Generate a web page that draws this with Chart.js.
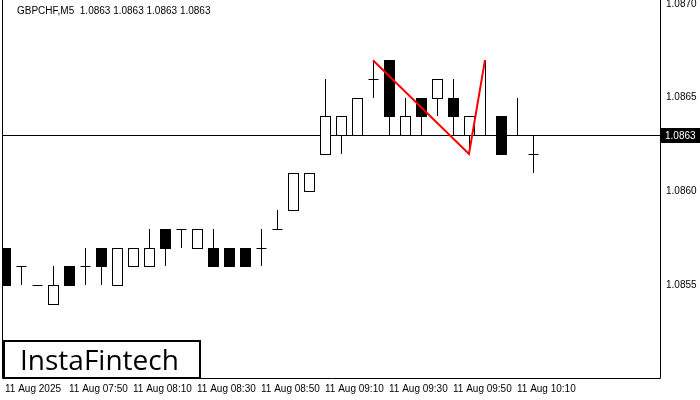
<!DOCTYPE html>
<html><head><meta charset="utf-8">
<script src="https://cdn.jsdelivr.net/npm/chart.js@4"></script>
<style>body{margin:0;background:#fff}</style>
</head><body>
<canvas id="c" width="700" height="400"></canvas>
<script>
// candle data, prices as 1.08xx
const opens  = [1.0857,1.0856,1.0855,1.0854,1.0856,1.0856,1.0857,1.0855,1.0856,1.0856,1.0858,1.0858,1.0857,1.0857,1.0857,1.0857,1.0857,1.0858,1.0859,1.0860,1.0862,1.0863,1.0863,1.0866,1.0867,1.0863,1.0865,1.0865,1.0865,1.0863,1.0863,1.0864,1.0863,1.0862];
const highs  = [1.0857,1.0856,1.0855,1.0856,1.0856,1.0857,1.0857,1.0857,1.0857,1.0858,1.0858,1.0858,1.0858,1.0858,1.0857,1.0857,1.0858,1.0859,1.0861,1.0861,1.0866,1.0864,1.0865,1.0867,1.0867,1.0865,1.0865,1.0866,1.0866,1.0864,1.0867,1.0864,1.0865,1.0863];
const lows   = [1.0855,1.0855,1.0855,1.0854,1.0855,1.0855,1.0855,1.0855,1.0856,1.0856,1.0856,1.0857,1.0857,1.0856,1.0856,1.0856,1.0856,1.0858,1.0859,1.0860,1.0862,1.0862,1.0863,1.0865,1.0863,1.0863,1.0863,1.0864,1.0863,1.0862,1.0863,1.0862,1.0863,1.0861];
const closes = [1.0855,1.0856,1.0855,1.0855,1.0855,1.0856,1.0856,1.0857,1.0857,1.0857,1.0857,1.0858,1.0858,1.0856,1.0856,1.0856,1.0857,1.0858,1.0861,1.0861,1.0864,1.0864,1.0865,1.0866,1.0864,1.0864,1.0864,1.0866,1.0864,1.0864,1.0863,1.0862,1.0863,1.0862];
const timeLabels = ['11 Aug 2025','11 Aug 07:50','11 Aug 08:10','11 Aug 08:30','11 Aug 08:50','11 Aug 09:10','11 Aug 09:30','11 Aug 09:50','11 Aug 10:10'];
const priceTicks = [1.0855,1.0860,1.0865,1.0870];
const lastPrice = 1.0863;
const patternX = [23,29,30];
const patternY = [1.0867,1.0862,1.0867];

const candlePlugin = {
  id: 'candles',
  beforeDatasetsDraw(chart) {
    const {ctx, chartArea: a, scales: {x, y}} = chart;
    ctx.save();
    ctx.beginPath(); ctx.rect(a.left, a.top, a.right - a.left, a.bottom - a.top); ctx.clip();
    ctx.strokeStyle = '#000'; ctx.lineWidth = 1;
    // last price line
    const ly = Math.round(y.getPixelForValue(lastPrice)) + 0.5;
    ctx.beginPath(); ctx.moveTo(a.left, ly); ctx.lineTo(a.right, ly); ctx.stroke();
    opens.forEach((o, i) => {
      const cx = Math.round(x.getPixelForValue(i)) + 0.5;
      const yo = Math.round(y.getPixelForValue(o)), yc = Math.round(y.getPixelForValue(closes[i]));
      const yh = Math.round(y.getPixelForValue(highs[i])), yl = Math.round(y.getPixelForValue(lows[i]));
      ctx.beginPath(); ctx.moveTo(cx, yh); ctx.lineTo(cx, yl); ctx.stroke();
      const top = Math.min(yo, yc), h = Math.abs(yo - yc);
      if (h === 0) {
        ctx.beginPath(); ctx.moveTo(cx - 5, yo + 0.5); ctx.lineTo(cx + 5, yo + 0.5); ctx.stroke();
      } else {
        ctx.fillStyle = closes[i] < o ? '#000' : '#fff';
        ctx.fillRect(cx - 5, top + 0.5, 10, h);
        ctx.strokeRect(cx - 5, top + 0.5, 10, h);
      }
    });
    ctx.restore();
  },
  afterDraw(chart) {
    const {ctx, chartArea: a, scales: {y}} = chart;
    ctx.save();
    ctx.strokeStyle = '#000'; ctx.lineWidth = 1;
    ctx.beginPath();
    ctx.moveTo(a.left + 0.5, a.top); ctx.lineTo(a.left + 0.5, a.bottom + 0.5);
    ctx.lineTo(a.right + 0.5, a.bottom + 0.5); ctx.lineTo(a.right + 0.5, a.top);
    ctx.stroke();
    // title
    ctx.fillStyle = '#000'; ctx.font = '10px "Liberation Sans"'; ctx.textBaseline = 'middle';
    ctx.fillText('GBPCHF,M5  1.0863 1.0863 1.0863 1.0863', 17, 11);
    // price label
    const ly = Math.round(y.getPixelForValue(lastPrice));
    ctx.fillRect(a.right + 1, ly - 7, 40, 15);
    ctx.fillStyle = '#fff'; ctx.fillText('1.0863', a.right + 5, ly + 1);
    // logo
    ctx.fillStyle = '#fff'; ctx.fillRect(3, 340, 198, 38);
    ctx.lineWidth = 2; ctx.strokeRect(4, 341, 196, 37);
    ctx.fillStyle = '#000'; ctx.font = '500 28px "Open Sans"'; ctx.textBaseline = 'alphabetic';
    ctx.fillText('InstaFintech', 20, 370);
    ctx.restore();
  }
};

new Chart(document.getElementById('c'), {
  type: 'line',
  data: {
    datasets: [{
      data: patternX.map((v, i) => ({x: v, y: patternY[i]})),
      borderColor: '#ff0000', borderWidth: 2, pointRadius: 0, tension: 0
    }]
  },
  options: {
    responsive: false, animation: false, devicePixelRatio: 1,
    layout: { padding: { left: 2, top: 0, right: 0, bottom: 0 } },
    plugins: { legend: { display: false }, tooltip: { enabled: false } },
    scales: {
      x: {
        type: 'linear', min: -0.19, max: 40.94,
        afterBuildTicks: s => { s.ticks = timeLabels.map((t, i) => ({value: i * 4})); },
        afterFit: s => { s.height = 22; s.paddingLeft = 0; s.paddingRight = 0; },
        grid: { display: false, drawTicks: false }, border: { display: false },
        ticks: { color: '#000', font: { size: 10, family: 'Liberation Sans' }, maxRotation: 0, autoSkip: false,
                 align: 'start', padding: 5, callback: (v, i) => timeLabels[i] }
      },
      y: {
        position: 'right', min: 1.085005, max: 1.087021,
        afterBuildTicks: s => { s.ticks = priceTicks.map(v => ({value: v})); },
        afterFit: s => { s.width = 40; s.paddingTop = 0; s.paddingBottom = 0; },
        grid: { display: false, tickLength: 4, drawOnChartArea: false, color: '#000' }, border: { display: false },
        ticks: { color: '#000', font: { size: 10, family: 'Liberation Sans' }, padding: 2, callback: v => v.toFixed(4) }
      }
    }
  },
  plugins: [candlePlugin]
});
</script>
</body></html>
